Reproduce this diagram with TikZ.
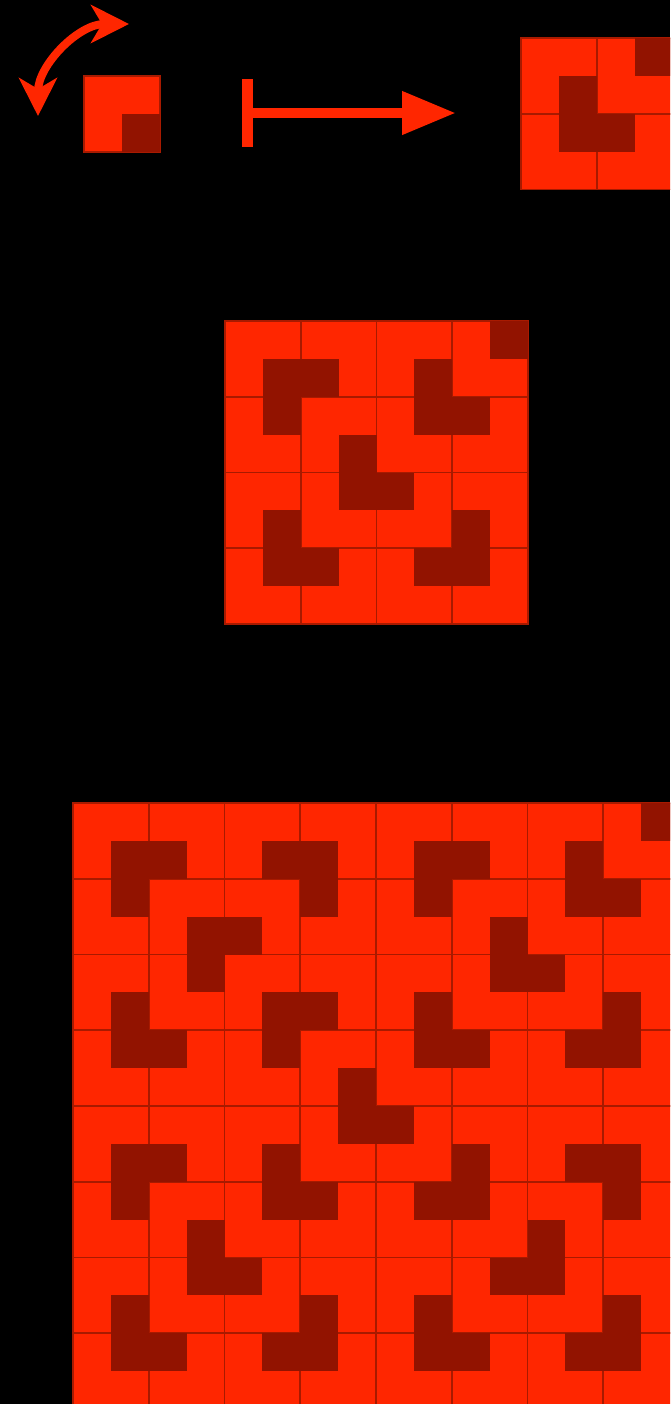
\documentclass[tikz,border=0pt]{standalone}
\usepackage{tikz}
\usetikzlibrary{arrows.meta}
\definecolor{tilered}{RGB}{255,38,0}
\definecolor{holecell}{RGB}{146,19,0}
\definecolor{tileedge}{RGB}{168,26,0}
\newcommand{\cellw}{37.875}
\newcommand{\trominoboard}[4]{%
  \pgfmathtruncatemacro{\tLast}{#3-1}%
  \foreach \tI in {0,...,\tLast}{%
    \foreach \tJ in {0,...,\tLast}{%
      \filldraw[tilebox] (#1+2*\tI*\cellw,#2+2*\tJ*\cellw) rectangle ++(2*\cellw,2*\cellw);%
    }%
  }%
  \foreach \dC/\dR in {#4}{%
    \fill[darkcell] (#1+\dC*\cellw,#2+\dR*\cellw) rectangle ++(\cellw,\cellw);%
  }%
}

\begin{document}
\begin{tikzpicture}[x=0.02cm,y=-0.02cm,
  tilebox/.style={fill=tilered,draw=tileedge,line width=0.035cm},
  darkcell/.style={fill=holecell},
  bigarrow/.style={tilered,line width=0.21cm},
  turnarrow/.style={tilered,line width=0.16cm}]
  \useasboundingbox (0,0) rectangle (670,1404);
  \fill[black] (0,0) rectangle (670,1404);
  \clip (0,0) rectangle (670,1404);
  % rotation mark and maps-to arrow
  \coordinate (turnlow) at (38,116);
  \coordinate (turnhigh) at (129,24);
  \draw[turnarrow,{Stealth[length=0.76cm,width=0.76cm,inset=0.22cm]}-{Stealth[length=0.76cm,width=0.76cm,inset=0.22cm]}]
    (turnlow) to[out=90,in=180] (turnhigh);
  \coordinate (barstart) at (242,113);
  \coordinate (arrowend) at (456,113);
  \draw[bigarrow,{Bar[width=1.36cm,line width=0.22cm]}-{Triangle[length=1.08cm,width=0.82cm]}] (barstart) -- (arrowend);
  % boards
  \trominoboard{84}{76}{1}{1/1}
  \trominoboard{521}{38}{2}{3/0,1/1,1/2,2/2}
  \trominoboard{225}{321}{4}{7/0,1/1,2/1,5/1,1/2,5/2,6/2,3/3,3/4,4/4,1/5,6/5,1/6,2/6,5/6,6/6}
  \trominoboard{73}{803}{8}{15/0,
    1/1,2/1,5/1,6/1,9/1,10/1,13/1,
    1/2,6/2,9/2,13/2,14/2,
    3/3,4/3,11/3,
    3/4,11/4,12/4,
    1/5,5/5,6/5,9/5,14/5,
    1/6,2/6,5/6,9/6,10/6,13/6,14/6,
    7/7,
    7/8,8/8,
    1/9,2/9,5/9,10/9,13/9,14/9,
    1/10,5/10,6/10,9/10,10/10,14/10,
    3/11,12/11,
    3/12,4/12,11/12,12/12,
    1/13,6/13,9/13,14/13,
    1/14,2/14,5/14,6/14,9/14,10/14,13/14,14/14}
\end{tikzpicture}
\end{document}
